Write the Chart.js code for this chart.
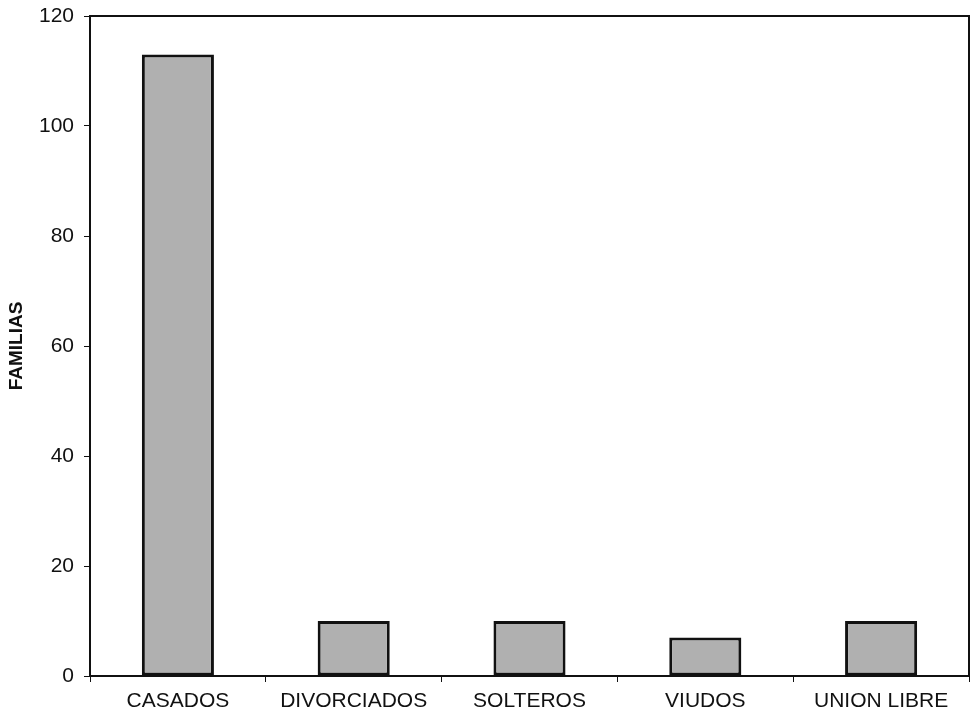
<!DOCTYPE html>
<html>
<head>
<meta charset="utf-8">
<script src="https://cdn.jsdelivr.net/npm/chart.js@4/dist/chart.umd.min.js"></script>
<style>
  html, body { margin: 0; padding: 0; background: #fff; }
  #wrap { width: 973px; height: 717px; }
</style>
</head>
<body>
<div id="wrap"><canvas id="myChart" width="973" height="717"></canvas></div>
<script>
const categories = ['CASADOS', 'DIVORCIADOS', 'SOLTEROS', 'VIUDOS', 'UNION LIBRE'];
const familias = [113, 10, 10, 7, 10];
const yTicks = [0, 20, 40, 60, 80, 100, 120];

// draws the box around the plot area (top and right sides)
const frame = {
    id: 'frame',
    afterDraw(chart) {
        const { ctx, chartArea: a } = chart;
        ctx.save();
        ctx.strokeStyle = '#111';
        ctx.lineWidth = 2;
        ctx.strokeRect(a.left, a.top, a.right - a.left, a.bottom - a.top);
        ctx.restore();
    }
};

const ctx = document.getElementById('myChart').getContext('2d');

const myChart = new Chart(ctx, {
    type: 'bar',
    data: {
        labels: categories,
        datasets: [{
            label: 'FAMILIAS',
            data: familias,
            backgroundColor: '#b0b0b0',
            borderColor: '#111',
            borderWidth: 3,
            borderSkipped: false,
            barPercentage: 0.41,
            categoryPercentage: 1.0
        }]
    },
    options: {
        responsive: false,
        animation: false,
        layout: {
            padding: { top: 16, right: 4, left: 0, bottom: 0 }
        },
        plugins: {
            legend: { display: false },
            tooltip: { enabled: false }
        },
        scales: {
            x: {
                afterFit: (scale) => {
                    scale.height = 41;
                    scale.paddingLeft = 0;
                    scale.paddingRight = 0;
                },
                grid: {
                    offset: true,
                    drawOnChartArea: false,
                    drawTicks: true,
                    tickLength: 6,
                    color: '#111'
                },
                border: { color: '#111', width: 2 },
                ticks: {
                    color: '#111',
                    padding: 7,
                    font: { family: 'Liberation Sans, Arial, sans-serif', size: 21 }
                }
            },
            y: {
                min: 0,
                max: 120,
                afterFit: (scale) => {
                    scale.width = 90;
                    scale.paddingTop = 0;
                    scale.paddingBottom = 0;
                },
                afterBuildTicks: (scale) => {
                    scale.ticks = yTicks.map(v => ({ value: v }));
                },
                grid: {
                    drawOnChartArea: false,
                    drawTicks: true,
                    tickLength: 6,
                    color: '#111'
                },
                border: { color: '#111', width: 2 },
                ticks: {
                    color: '#111',
                    padding: 10,
                    font: { family: 'Liberation Sans, Arial, sans-serif', size: 21 }
                },
                title: {
                    display: true,
                    text: 'FAMILIAS',
                    color: '#111',
                    padding: { top: 5, bottom: 0 },
                    font: { family: 'Liberation Sans, Arial, sans-serif', size: 19, weight: 'bold' }
                }
            }
        }
    },
    plugins: [frame]
});
</script>
</body>
</html>
